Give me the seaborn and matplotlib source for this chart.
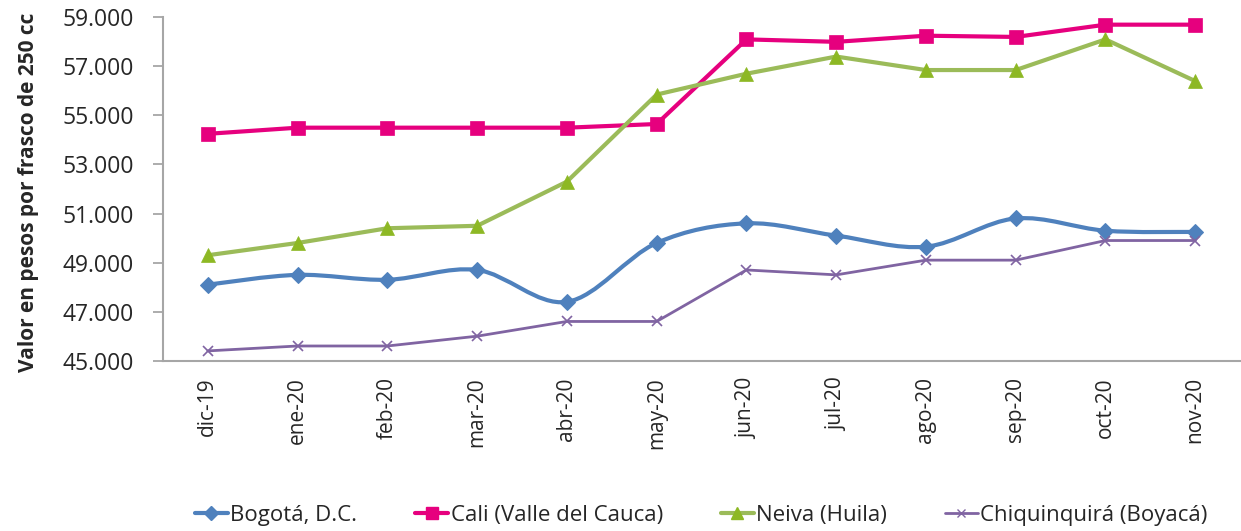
import numpy as np
import pandas as pd
import seaborn as sns
import matplotlib.pyplot as plt
from matplotlib.path import Path
from matplotlib.patches import PathPatch
from matplotlib.lines import Line2D
from matplotlib.ticker import FuncFormatter

# datos
meses = ["dic-19", "ene-20", "feb-20", "mar-20", "abr-20", "may-20",
         "jun-20", "jul-20", "ago-20", "sep-20", "oct-20", "nov-20"]
bogota = [48100, 48500, 48300, 48700, 47400, 49800, 50600, 50100, 49650, 50800, 50300, 50250]
cali = [54250, 54500, 54500, 54500, 54500, 54650, 58100, 58000, 58250, 58200, 58700, 58700]
neiva = [49300, 49800, 50400, 50500, 52300, 55850, 56700, 57400, 56850, 56850, 58100, 56400]
chiquinquira = [45400, 45600, 45600, 46000, 46600, 46600, 48700, 48500, 49100, 49100, 49900, 49900]

series = {
    "Bogotá, D.C.": bogota,
    "Cali (Valle del Cauca)": cali,
    "Neiva (Huila)": neiva,
    "Chiquinquirá (Boyacá)": chiquinquira,
}
colores = {"Bogotá, D.C.": "#4F81BD", "Cali (Valle del Cauca)": "#E6007E",
           "Neiva (Huila)": "#9BBB59", "Chiquinquirá (Boyacá)": "#8064A2"}
marcas = {"Bogotá, D.C.": "D", "Cali (Valle del Cauca)": "s",
          "Neiva (Huila)": "^", "Chiquinquirá (Boyacá)": "x"}
tam = {"Bogotá, D.C.": 8, "Cali (Valle del Cauca)": 10,
       "Neiva (Huila)": 10, "Chiquinquirá (Boyacá)": 7}
grosor = {"Bogotá, D.C.": 3.0, "Cali (Valle del Cauca)": 3.0,
          "Neiva (Huila)": 3.0, "Chiquinquirá (Boyacá)": 2.0}
color_marca = {"Neiva (Huila)": "#8DB824"}

sns.set_style("white")
plt.rcParams['font.family'] = ['Open Sans', 'DejaVu Sans']

fig = plt.figure(figsize=(12.41, 5.31), dpi=100)
ax = fig.add_axes([0.1313, 0.3207, 0.868, 0.6467])

x = np.arange(len(meses))
for nombre, vals in series.items():
    df = pd.DataFrame({"x": x, "y": vals})
    c = colores[nombre]
    mc = color_marca.get(nombre, c)
    if nombre == "Bogotá, D.C.":
        # linea suavizada (estilo Excel): curvas de Bezier entre los puntos
        p = np.column_stack([x, vals]).astype(float)
        verts = [tuple(p[0])]
        codes = [Path.MOVETO]
        for i in range(len(p) - 1):
            p0 = p[i - 1] if i > 0 else p[i]
            p3 = p[i + 2] if i + 2 < len(p) else p[i + 1]
            c1 = p[i] + (p[i + 1] - p0) / 6
            c2 = p[i + 1] - (p3 - p[i]) / 6
            verts += [tuple(c1), tuple(c2), tuple(p[i + 1])]
            codes += [Path.CURVE4] * 3
        ax.add_patch(PathPatch(Path(verts, codes), fill=False, edgecolor=c,
                               lw=grosor[nombre], zorder=2, capstyle='round'))
        sns.lineplot(data=df, x="x", y="y", ax=ax, linestyle="", marker=marcas[nombre],
                     markersize=tam[nombre], color=c, markeredgecolor=c, zorder=3)
    else:
        sns.lineplot(data=df, x="x", y="y", ax=ax, color=c, lw=grosor[nombre],
                     marker=marcas[nombre], markersize=tam[nombre],
                     markerfacecolor=mc, markeredgecolor=mc,
                     markeredgewidth=1.2 if marcas[nombre] == "x" else 0.5, zorder=3)

ax.set_xlim(-0.5, len(meses) - 0.5)
ax.set_ylim(45000, 59000)
ax.set_yticks(range(45000, 59001, 2000))
ax.yaxis.set_major_formatter(FuncFormatter(lambda v, p: f"{int(v):,}".replace(",", ".")))
ax.set_xticks(x)
ax.set_xticklabels(meses, rotation=90, fontsize=15)
ax.tick_params(axis='y', labelsize=16.5, length=7, width=1.3, color="#A6A6A6",
               direction='out', left=True, pad=14)
ax.tick_params(axis='x', length=0, pad=12)
ax.set_xlabel("")
ax.set_ylabel("Valor en pesos por frasco de 250 cc", fontsize=15, fontweight='bold')
ax.yaxis.set_label_coords(-0.115, 0.491)

for s in ["top", "right"]:
    ax.spines[s].set_visible(False)
for s in ["left", "bottom"]:
    ax.spines[s].set_color("#A6A6A6")
    ax.spines[s].set_linewidth(1.5)

handles = [Line2D([0], [0], color=colores[n], lw=grosor[n], marker=marcas[n],
                  markersize=tam[n] - 1, markerfacecolor=color_marca.get(n, colores[n]),
                  markeredgecolor=color_marca.get(n, colores[n])) for n in series]
fig.legend(handles, list(series.keys()), loc="center", bbox_to_anchor=(0.565, 0.03),
           ncol=4, frameon=False, fontsize=16, handlelength=1.5, handletextpad=0.1,
           columnspacing=2.6)

fig.savefig("out.png", dpi=100)
